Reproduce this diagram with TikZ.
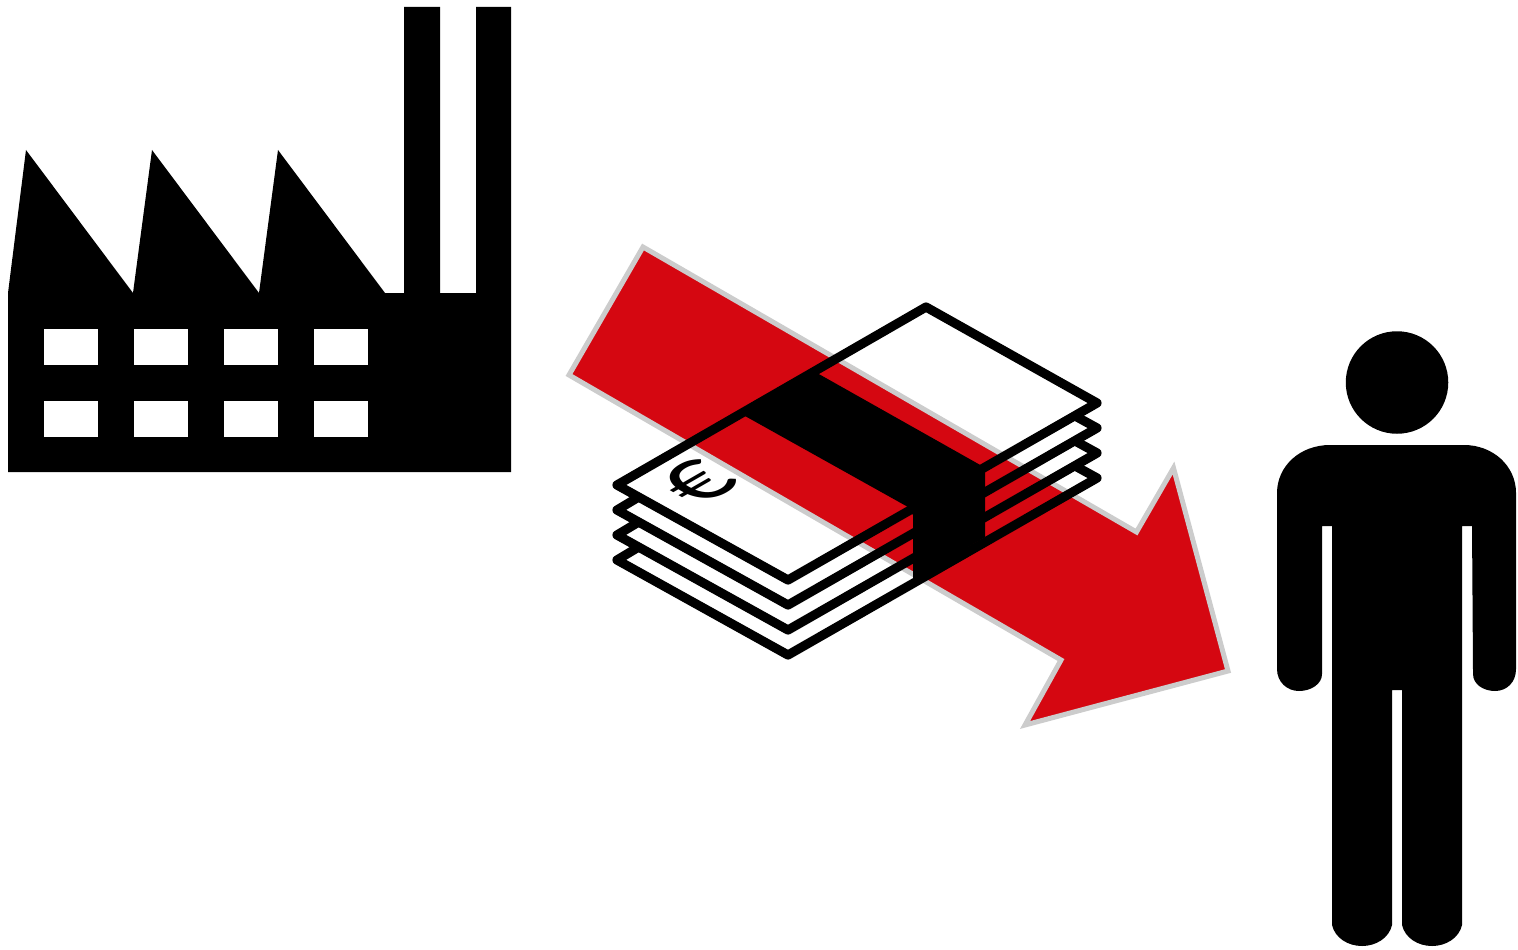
\documentclass[tikz,border=0pt]{standalone}
\usepackage{xcolor}
\usepackage{fontspec}
\setmainfont{Carlito}
\usetikzlibrary{positioning}
\definecolor{arrowfill}{RGB}{213,7,17}
\definecolor{arrowline}{RGB}{204,204,204}
\tikzset{
  solid/.style={fill=black, draw=none},
  notepath/.style={draw=black, line width=0.92mm, line join=round, line cap=round},
  flow/.style={fill=arrowfill, draw=arrowline, line width=0.5mm, line join=miter},
  win/.style={fill=white, draw=none, inner sep=0pt, minimum width=5.4mm, minimum height=3.6mm},
  headshape/.style={circle, fill=black, draw=none, inner sep=0pt, minimum size=10.25mm},
  euro/.style={transform shape, cm={.87,.5,-.87,.5,(0,0)}, inner sep=0pt, font=\fontsize{29}{29}\selectfont}
}
\begin{document}
\begin{tikzpicture}[x=0.1mm, y=-0.1mm]
  \useasboundingbox (0,0) rectangle (1518,949);

  % factory
  \fill[solid] (8,472) -- (8,293) -- (26,150) -- (133,293) -- (152,150) -- (259,293)
    -- (278,150) -- (385,293) -- (404,293) -- (404,7) -- (440,7) -- (440,293)
    -- (476,293) -- (476,7) -- (511,7) -- (511,472) -- cycle;
  \node[win] (w11) at (71,347) {};
  \node[win] (w12) at (161,347) {};
  \node[win] (w13) at (251,347) {};
  \node[win] (w14) at (341,347) {};
  \node[win] (w21) at (71,419) {};
  \node[win] (w22) at (161,419) {};
  \node[win] (w23) at (251,419) {};
  \node[win] (w24) at (341,419) {};

  % arrow
  \draw[flow] (643,247) -- (569,375) -- (1061,660) -- (1025,725) -- (1228,671)
    -- (1173.5,468) -- (1136.5,532) -- cycle;

  % notes
  \draw[notepath] (926,307) -- (1097,403) -- (788,580) -- (617,485) -- cycle;
  \draw[notepath] (637,498) -- (617,510) -- (788,605) -- (1097,428) -- (1077,417);
  \draw[notepath] (637,523) -- (617,535) -- (788,630) -- (1097,453) -- (1077,442);
  \draw[notepath] (637,548) -- (617,560) -- (788,655) -- (1097,478) -- (1077,467);

  % band
  \fill[solid] (817,373) -- (982,466) -- (985,472) -- (985,537) -- (913,580)
    -- (913,515) -- (908,507) -- (745,416) -- cycle;

  \node[euro] (money) at (698,482) {€};

  % person
  \node[headshape] (head) at (1397,382.5) {};
  \fill[solid] (1330,445) -- (1464,445) .. controls (1493,445) and (1516,466) .. (1516,493)
    -- (1516,669) .. controls (1516,682) and (1507,691) .. (1495,691)
    .. controls (1483,691) and (1473,684) .. (1473,674) -- (1472,526) -- (1462,526)
    -- (1462,925) .. controls (1459,938) and (1446,946) .. (1432,946)
    .. controls (1418,946) and (1405,938) .. (1402,925) -- (1402,690) -- (1392,690)
    -- (1392,925) .. controls (1389,938) and (1376,946) .. (1362,946)
    .. controls (1348,946) and (1335,938) .. (1332,925) -- (1332,526) -- (1322,526)
    -- (1322,674) .. controls (1322,684) and (1311,691) .. (1299,691)
    .. controls (1287,691) and (1277,682) .. (1277,669) -- (1277,493)
    .. controls (1277,466) and (1300,445) .. (1330,445) -- cycle;
\end{tikzpicture}
\end{document}
